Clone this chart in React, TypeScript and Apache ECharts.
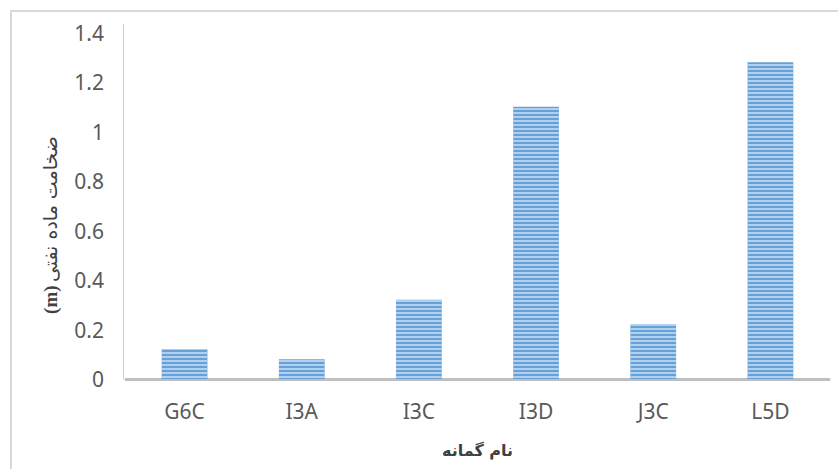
import React, { useEffect, useRef } from "react";
import * as echarts from "echarts";

// Borehole names and measured oil-layer thickness (m)
const boreholes = ["G6C", "I3A", "I3C", "I3D", "J3C", "L5D"];
const thickness = [0.12, 0.08, 0.32, 1.1, 0.22, 1.28];
const yTicks = { min: 0, max: 1.4, interval: 0.2 };
const xTitle = "نام گمانه";
const yTitleText = "ضخامت ماده نفتی";
const yTitleUnit = "(m)";

export default function App() {
  const ref = useRef<HTMLDivElement>(null);

  useEffect(() => {
    if (!ref.current) return;
    const chart = echarts.init(ref.current, null, { renderer: "svg" });
    const labelFont = "'Noto Sans', sans-serif";
    chart.setOption({
      animation: false,
      backgroundColor: "#ffffff",
      grid: { left: 126, right: 9, top: 32.5, bottom: 90, containLabel: false },
      xAxis: {
        type: "category",
        data: boreholes,
        name: xTitle,
        nameLocation: "middle",
        nameGap: 63,
        nameTextStyle: {
          fontFamily: "'DejaVu Sans', sans-serif",
          fontSize: 16,
          fontWeight: "bold",
          color: "#404040",
        },
        axisLine: { show: true, lineStyle: { color: "#bfbfbf", width: 3 } },
        axisTick: { show: false },
        axisLabel: { margin: 21, fontFamily: labelFont, fontSize: 21, color: "#595959" },
      },
      yAxis: {
        type: "value",
        min: yTicks.min,
        max: yTicks.max,
        interval: yTicks.interval,
        offset: 3,
        axisLine: { show: true, lineStyle: { color: "#d0d0d0", width: 1 } },
        axisTick: { show: false },
        splitLine: { show: false },
        axisLabel: {
          margin: 19,
          fontFamily: labelFont,
          fontSize: 21,
          color: "#595959",
          formatter: (v: number) => String(Math.round(v * 10) / 10),
        },
      },
      series: [
        {
          type: "bar",
          data: thickness,
          barWidth: "39%",
          itemStyle: {
            color: "#66a0d8",
            decal: {
              symbol: "rect",
              symbolSize: 1,
              color: "rgba(190, 216, 241, 0.85)",
              dashArrayX: [1, 0],
              dashArrayY: [2, 2],
              rotation: 0,
            },
          },
        },
      ],
      graphic: [
        {
          type: "rect",
          shape: { x: 11, y: 11, width: 840, height: 470 },
          style: { fill: "none", stroke: "#d9d9d9", lineWidth: 2 },
          silent: true,
        },
        {
          type: "line",
          shape: { x1: 123.5, y1: 24, x2: 123.5, y2: 33 },
          style: { stroke: "#d0d0d0", lineWidth: 1 },
          silent: true,
        },
        {
          type: "text",
          x: 50,
          y: 225,
          rotation: Math.PI / 2,
          style: {
            text: "{u|" + yTitleUnit + "} {t|" + yTitleText + "}",
            align: "center",
            verticalAlign: "middle",
            rich: {
              u: {
                fontFamily: "'Liberation Serif', serif",
                fontWeight: "bold",
                fontSize: 19,
                fill: "#404040",
                color: "#404040",
              },
              t: {
                fontFamily: "'DejaVu Sans', sans-serif",
                fontSize: 19,
                fill: "#404040",
                color: "#404040",
              },
            },
          },
        },
      ],
    });
    return () => chart.dispose();
  }, []);

  return (
    <div
      ref={ref}
      style={{ position: "absolute", left: 0, top: 0, width: 838, height: 469 }}
    />
  );
}
